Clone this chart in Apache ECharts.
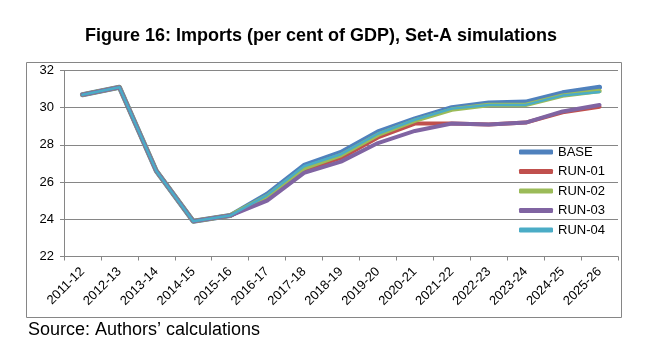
<!DOCTYPE html>
<html><head><meta charset="utf-8">
<script src="https://cdn.jsdelivr.net/npm/echarts@6/dist/echarts.min.js"></script>
<style>html,body{margin:0;padding:0;background:#fff}#c{width:656px;height:361px}</style>
</head><body><div id="c"></div>
<script>
const categories = ['2011-12','2012-13','2013-14','2014-15','2015-16','2016-17','2017-18','2018-19','2019-20','2020-21','2021-22','2022-23','2023-24','2024-25','2025-26'];
const base  = [30.7, 31.1, 26.6, 23.9, 24.2, 25.35, 26.9, 27.6, 28.7, 29.4, 30.0, 30.25, 30.3, 30.8, 31.1];
const run01 = [30.7, 31.1, 26.6, 23.9, 24.2, 25.15, 26.65, 27.3, 28.4, 29.15, 29.15, 29.1, 29.2, 29.75, 30.05];
const run02 = [30.7, 31.1, 26.6, 23.9, 24.2, 25.25, 26.75, 27.45, 28.55, 29.3, 29.9, 30.15, 30.15, 30.65, 30.9];
const run03 = [30.7, 31.1, 26.6, 23.9, 24.2, 25.0, 26.5, 27.1, 28.1, 28.75, 29.15, 29.1, 29.2, 29.8, 30.15];
const run04 = [30.7, 31.1, 26.6, 23.9, 24.2, 25.3, 26.85, 27.5, 28.6, 29.35, 29.95, 30.15, 30.15, 30.65, 30.85];
const seriesNames = ['BASE','RUN-01','RUN-02','RUN-03','RUN-04'];
const yTicks = [22, 24, 26, 28, 30, 32];

const colors = ['#4F81BD','#C0504D','#9BBB59','#8064A2','#4BACC6'];
const widths = [5, 4, 4.5, 4, 2.5];
const datas = [base, run01, run02, run03, run04];
const font = '"Liberation Sans", Arial, sans-serif';

const chart = echarts.init(document.getElementById('c'), null, {renderer:'canvas'});
chart.setOption({
  backgroundColor: '#fff',
  animation: false,
  color: colors,
  title: {
    text: 'Figure 16: Imports (per cent of GDP), Set-A simulations',
    left: 316, top: 22, textAlign: 'center',
    textStyle: {fontFamily: font, fontSize: 18, fontWeight: 'bold', color: '#000'}
  },
  graphic: [
    {type:'rect', shape:{x:26.5, y:62.5, width:595, height:255}, style:{fill:'none', stroke:'#868686', lineWidth:1}, z:-1},
    {type:'text', left: 28, top: 321, style:{text:'Source: Authors\u2019 calculations', font:'18px "Liberation Sans", Arial, sans-serif', fill:'#000'}}
  ],
  legend: {
    orient: 'vertical', left: 514, top: 140,
    itemWidth: 34, itemHeight: 5, itemGap: 5.5,
    icon: 'roundRect',
    textStyle: {fontFamily: font, fontSize: 13, color: '#000', lineHeight: 14},
    data: seriesNames
  },
  grid: {left: 64, right: 38, top: 70.5, bottom: 104.5, containLabel: false},
  xAxis: {
    type: 'category', data: categories, boundaryGap: true,
    axisLine: {lineStyle: {color: '#868686'}},
    axisTick: {show: true, length: 4, lineStyle: {color: '#868686'}, alignWithLabel: false},
    axisLabel: {rotate: 45, fontFamily: font, fontSize: 13, color: '#000', margin: 13, interval: 0}
  },
  yAxis: {
    type: 'value', min: yTicks[0], max: yTicks[yTicks.length-1], interval: 2,
    axisLine: {show: true, lineStyle: {color: '#868686'}},
    axisTick: {show: true, length: 4, lineStyle: {color: '#868686'}},
    axisLabel: {fontFamily: font, fontSize: 13, color: '#000', margin: 10},
    splitLine: {lineStyle: {color: '#868686', width: 1}}
  },
  series: seriesNames.map((n, i) => ({
    name: n, type: 'line', data: datas[i],
    symbol: 'none', smooth: false,
    lineStyle: {width: widths[i], color: colors[i], cap: 'round', join: 'round'},
    itemStyle: {color: colors[i]},
    z: 2 + i
  }))
});
</script></body></html>
